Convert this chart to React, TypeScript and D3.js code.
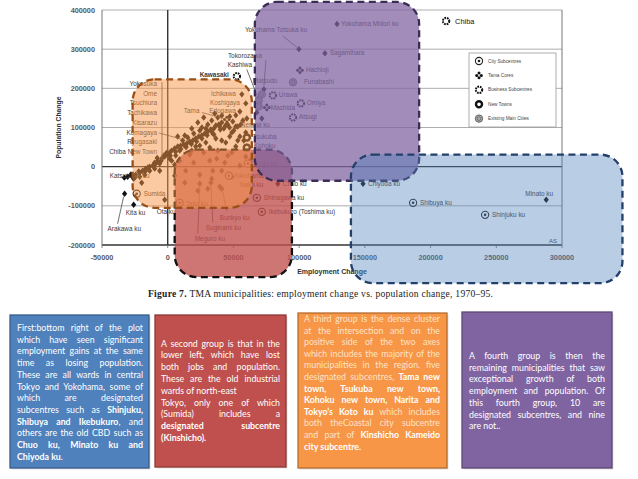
import React, { useEffect, useRef } from "react";
import * as d3 from "d3";

const W = 638;
const H = 479;

// axis ticks
const xTicks = [-50000, 0, 50000, 100000, 150000, 200000, 250000, 300000];
const yTicks = [-200000, -100000, 0, 100000, 200000, 300000, 400000];

// [name, employment change, population change]
type Place = [string, number, number];

const citySubcentres: Place[] = [
    ["Koto ku", 61000, 7700],
    ["Yokohama Naka ku", 46500, -23100],
    ["Shinagawa ku", 67800, -79500],
    ["Ikebukuro (Toshima ku)", 71600, -115400],
    ["Taito ku", 9100, -92300],
    ["Sumida", -23600, -69200],
    ["Shibuya ku", 186700, -92300],
    ["Shinjuku ku", 241500, -123000],
];

const tamaCores: Place[] = [
    ["Hachioji", 100600, 246100],
    ["Machida", 75400, 151300],
    ["Tama", 45000, 120500],
];

const businessSubcentres: Place[] = [
    ["Chiba", 211800, 371800],
    ["Urawa", 80000, 182000],
    ["Omiya", 101300, 161500],
    ["Atsugi", 95300, 125600],
    ["Kawasaki", 52600, 230800],
];

const newTowns: Place[] = [
    ["Tsukuba", 60200, 74400],
    ["Kohoku", 60200, 48700],
];

const mainCities: Place[] = [
    ["Funabashi", 95300, 215400],
    ["Matsudo", 71600, 184600],
    ["Kashiwa", 69300, 169200],
    ["", 69300, 153800],
];

const otherPlaces: Place[] = [
    ["Yokohama Midori ku", 128800, 364100],
    ["Yokohama Totsuka ku", 99800, 300000],
    ["Sagamihara", 119600, 289700],
    ["Tokorozawa", 73200, 197400],
    ["Ichikawa", 56400, 184600],
    ["Koshigaya", 59400, 161500],
    ["Edogawa", 54900, 141000],
    ["Nerima ku", 51800, 102600],
    ["Chuo ku", 83800, -43600],
    ["Bunkyo ku", 41100, -56400],
    ["Suginami ku", 32800, -41000],
    ["Meguro ku", 24400, -43600],
    ["Katsushika ku", -19800, -41000],
    ["Arakawa ku", -32800, -69200],
    ["Kita ku", -25900, -97400],
    ["Ota ku", -2300, -84600],
    ["Minato ku", 288000, -84600],
    ["Chiyoda ku", 148600, -43600],
    ["", 67800, 138500],
    ["", 71600, 123100],
];

// unlabelled municipalities of the dense cluster
const clusterPoints: [number, number][] = [
    [-30500, -25600], [-27400, -23100], [-24400, -20500], [-21300, -15400], [-19100, -10300],
    [-16800, -5100], [-13700, 0], [-11400, 2600], [-9100, 7700], [-7600, 15400], [-4600, 20500],
    [-2300, 25600], [0, 30800], [1500, 35900], [3000, 41000], [5300, 46200], [7600, 51300],
    [9900, 53800], [12200, 56400], [14500, 59000], [16800, 64100], [19100, 66700], [21300, 71800],
    [23600, 76900], [25900, 79500], [28200, 84600], [30500, 89700], [32800, 94900], [35100, 97400],
    [36600, 105100], [38900, 107700], [41100, 112800],
    [-28000, -20000], [-22000, -12000], [-15000, -2000], [-10000, 10000], [-5000, 15000],
    [2000, 28000], [6000, 38000], [10000, 45000], [14000, 50000], [18000, 58000], [22000, 64000],
    [26000, 72000], [30000, 80000], [34000, 86000], [40000, 95000], [44000, 105000], [47000, 100000],
    [26000, 100000], [-1000, 35000], [-3000, 28000], [-8000, 22000], [-17000, -12000],
    [-25000, -28000], [-33000, -28000],
    [33500, 117900], [38100, 125600], [49500, 115400], [53300, 102600], [57200, 117900],
    [59400, 87200], [54900, 76900], [48800, 87200], [42700, 97400], [30500, 107700], [24400, 92300],
    [19800, 84600], [15200, 74400], [11400, 66700], [7600, 76900], [21300, 51300], [29000, 61500],
    [36600, 71800], [44200, 61500], [51800, 51300], [60200, 51300], [59400, 25600], [48800, 35900],
    [38100, 41000], [27400, 35900], [16800, 30800], [9100, 15400], [19800, 10300], [32000, 15400],
    [43400, 10300], [54900, 2600], [62500, 15400], [13700, -10300], [24400, -20500], [34300, -10300],
    [37300, 20500], [41100, -10300], [33500, -30800], [39600, -51300], [22900, -61500],
    [30500, -56400], [48800, -25600], [13000, -41000], [5300, -23100], [45700, 28200],
    [3000, 15400], [-6100, -10300], [5300, 5100],
    [13000, 79500], [18300, 97400], [22900, 112800], [27400, 125600], [35800, 135900],
    [41100, 130800], [47200, 128200], [51800, 131000], [55600, 107700], [60200, 123100],
    [13700, 51300], [18300, 41000], [24400, 53800], [32000, 48700], [41100, 66700], [47200, 76900],
    [53300, 66700], [57900, 66700], [35100, 82000], [29000, 97400], [39600, 102600], [45700, 107700],
    [50300, 92300], [9100, 41000], [6100, 28200], [1500, 20500], [-6100, 7700], [-13700, -10300],
    [-21300, -25600], [-25900, -30800], [-17500, -20500], [-9900, -5100],
];

const listedNames = ["Yokosuka", "Ome", "Tsuchiura", "Tachikawa", "Kisarazu", "Kumagaya", "Ryugasaki", "Chiba New Town"];

const legendItems = [
    ["city", "City Subcentres"],
    ["tama", "Tama Cores"],
    ["business", "Business Subcentres"],
    ["newtown", "New Towns"],
    ["main", "Existing Main Cities"],
];

// group outlines in data units: [x0, x1, y0, y1]
const groupAreas = [
    { key: "red", ext: [5300, 94500, 43600, -282000], fill: "#c0504d", op: 0.78, stroke: "#111" },
    { key: "orange", ext: [-26700, 64000, 223100, -105100], fill: "#f79646", op: 0.5, stroke: "#9a4f16" },
    { key: "purple", ext: [66300, 191300, 420500, -35900], fill: "#8064a2", op: 0.74, stroke: "#3b2d55" },
    { key: "blue", ext: [139400, 346000, 30800, -297400], fill: "#4f81bd", op: 0.4, stroke: "#23406b" },
];

const blueLines = [
    "First:bottom right of the plot",
    "which have seen significant",
    "employment gains at the same",
    "time as losing population.",
    "These are all wards in central",
    "Tokyo and Yokohama, some of",
    "which are designated",
    "subcentres such as **Shinjuku,**",
    "**Shibuya and Ikebukuro**, and",
    "others are the old CBD such as",
    "**Chuo ku, Minato ku and**",
    "**Chiyoda ku**.",
];
const redLines = [
    "A second group is that in the",
    "lower left, which have lost",
    "both jobs and population.",
    "These are the old industrial",
    "wards of north-east",
    "Tokyo, only one of which",
    "(Sumida) includes a",
    "**designated subcentre**",
    "**(Kinshicho).**",
];
const orangeLines = [
    "A third group is the dense cluster",
    "at the intersection and on the",
    "positive side of the two axes",
    "which includes the majority of the",
    "municipalities in the region. five",
    "designated subcentres, **Tama new**",
    "**town, Tsukuba new town,**",
    "**Kohoku new town, Narita and**",
    "**Tokyo’s Koto ku** which includes",
    "both theCoastal city subcentre",
    "and part of **Kinshicho Kameido**",
    "**city subcentre.**",
];
const purpleLines = [
    "A fourth group is then the",
    "remaining municipalities that saw",
    "exceptional growth of both",
    "employment and population. Of",
    "this fourth group, 10 are",
    "designated subcentres, and nine",
    "are not..",
];

// label placement (px offsets from the point): dx, dy, anchor
const labelPos: Record<string, [number, number, string]> = {
    "Chiba": [9, 3, "start"],
    "Yokohama Midori ku": [4, 2, "start"],
    "Yokohama Totsuka ku": [-54, -17, "start"],
    "Sagamihara": [5, 2, "start"],
    "Hachioji": [6, 2, "start"],
    "Funabashi": [11, 2, "start"],
    "Urawa": [6, 2, "start"],
    "Omiya": [6, 2, "start"],
    "Machida": [4, 3, "start"],
    "Atsugi": [6, 2, "start"],
    "Kawasaki": [-8, 1, "end"],
    "Tokorozawa": [-36, -31, "start"],
    "Matsudo": [-9, -11, "start"],
    "Kashiwa": [-31, -33, "start"],
    "Ichikawa": [-6, 2, "end"],
    "Koshigaya": [-6, 2, "end"],
    "Edogawa": [-4, 2, "end"],
    "Tama": [-43, -6, "start"],
    "Nerima ku": [5, 1, "start"],
    "Tsukuba": [6, 1, "start"],
    "Kohoku": [7, 0, "start"],
    "Koto ku": [8, 2, "start"],
    "Yokohama Naka ku": [5, 2, "start"],
    "Chuo ku": [5, 2, "start"],
    "Shinagawa ku": [7, 2, "start"],
    "Ikebukuro (Toshima ku)": [7, 2, "start"],
    "Bunkyo ku": [-2, 31, "start"],
    "Suginami ku": [-5, 47, "start"],
    "Meguro ku": [-5, 57, "start"],
    "Taito ku": [6, 3, "start"],
    "Sumida": [7, 2, "start"],
    "Katsushika ku": [-32, -5, "start"],
    "Arakawa ku": [-17, 37, "start"],
    "Kita ku": [-8, 10, "start"],
    "Ota ku": [-8, 14, "start"],
    "Minato ku": [-7, -4, "middle"],
    "Chiyoda ku": [5, 2, "start"],
    "Shibuya ku": [7, 2, "start"],
    "Shinjuku ku": [7, 2, "start"],
};

// leader lines relative to the point: x1, y1, x2, y2
const leaders: Record<string, [number, number, number, number]> = {
    "Yokohama Totsuka ku": [-16, -13, -2, -2],
    "Tokorozawa": [2, -29, 0, -3],
    "Kashiwa": [-12, -31, -1, -3],
    "Tama": [-25, -7, -3, -1],
    "Bunkyo ku": [5, 22, 1, 3],
    "Suginami ku": [2, 40, 0, 3],
    "Meguro ku": [-2, 50, 0, 3],
    "Arakawa ku": [-7, 30, -1, 3],
};

const FONT = "'Liberation Sans', Arial, sans-serif";
const BOXFONT = "Lato, 'Open Sans', sans-serif";

export default function App() {
    const svgRef = useRef<SVGSVGElement>(null);

    useEffect(() => {
        if (!svgRef.current) return;
        const svg = d3.select(svgRef.current);
        svg.selectAll("*").remove();

        const x = d3.scaleLinear().domain([-50000, 300000]).range([102, 562]);
        const y = d3.scaleLinear().domain([-200000, 400000]).range([245, 10]);

        svg.append("rect").attr("width", W).attr("height", H).attr("fill", "#fff");

        const plot = svg.append("g");

        // grid + frame
        yTicks.forEach(v => {
            const dark = v === 0 || v === -200000;
            plot.append("line")
                .attr("x1", x(-50000)).attr("x2", x(300000))
                .attr("y1", y(v)).attr("y2", y(v))
                .attr("stroke", dark ? "#333" : "#999")
                .attr("stroke-width", dark ? 1.4 : 0.8);
        });
        [[-50000, "#666", 0.9], [0, "#333", 1.4], [300000, "#666", 0.9]].forEach(([v, c, w]) => {
            plot.append("line")
                .attr("x1", x(v as number)).attr("x2", x(v as number))
                .attr("y1", y(400000)).attr("y2", y(-200000))
                .attr("stroke", c as string).attr("stroke-width", w as number);
        });
        xTicks.forEach(v => {
            plot.append("line").attr("x1", x(v)).attr("x2", x(v))
                .attr("y1", y(-200000)).attr("y2", y(-200000) + 3)
                .attr("stroke", "#666").attr("stroke-width", 0.8);
        });

        // tick labels
        plot.selectAll(".ytl").data(yTicks).enter().append("text")
            .attr("x", 95).attr("y", d => y(d) + 2.6)
            .attr("text-anchor", "end")
            .attr("font-family", FONT).attr("font-size", 7.3).attr("font-weight", "bold")
            .attr("fill", "#5a5a5a").text(d => String(d));
        plot.selectAll(".xtl").data(xTicks).enter().append("text")
            .attr("x", d => x(d)).attr("y", 260)
            .attr("text-anchor", "middle")
            .attr("font-family", FONT).attr("font-size", 7.3).attr("font-weight", "bold")
            .attr("fill", "#5a5a5a").text(d => String(d));

        plot.append("text")
            .attr("transform", `translate(61,${y(100000)}) rotate(-90)`)
            .attr("text-anchor", "middle")
            .attr("font-family", FONT).attr("font-size", 6.8).attr("font-weight", "bold")
            .attr("fill", "#333").text("Population Change");
        plot.append("text")
            .attr("x", 332).attr("y", 274).attr("text-anchor", "middle")
            .attr("font-family", FONT).attr("font-size", 7).attr("font-weight", "bold")
            .attr("fill", "#333").text("Employment Change");
        plot.append("text")
            .attr("x", 553).attr("y", 243).attr("text-anchor", "middle")
            .attr("font-family", FONT).attr("font-size", 6).attr("fill", "#444").text("AS");

        const cap = plot.append("text")
            .attr("x", 148).attr("y", 297)
            .attr("font-family", "'Liberation Serif', 'Times New Roman', serif")
            .attr("font-size", 9.6).attr("fill", "#222")
            .attr("textLength", 345).attr("lengthAdjust", "spacing");
        cap.append("tspan").attr("font-weight", "bold").text("Figure 7. ");
        cap.append("tspan").text("TMA municipalities: employment change vs. population change, 1970–95.");

        // symbols
        const drawSymbol = (g: any, type: string, cx: number, cy: number) => {
            const s = g.append("g").attr("transform", `translate(${cx},${cy})`);
            if (type === "plain") {
                s.append("path").attr("d", "M0,-3.2L2.6,0L0,3.2L-2.6,0Z").attr("fill", "#111");
            } else if (type === "city") {
                s.append("circle").attr("r", 3.6).attr("fill", "#fff").attr("stroke", "#222").attr("stroke-width", 1.1);
                s.append("circle").attr("r", 1.3).attr("fill", "#222");
            } else if (type === "tama") {
                [[0, -2.3], [2.3, 0], [0, 2.3], [-2.3, 0]].forEach(([a, b]) =>
                    s.append("circle").attr("cx", a).attr("cy", b).attr("r", 1.5).attr("fill", "#111"));
            } else if (type === "business") {
                s.append("circle").attr("r", 3.2).attr("fill", "#fff").attr("stroke", "#111")
                    .attr("stroke-width", 2).attr("stroke-dasharray", "1.7,0.9");
            } else if (type === "newtown") {
                s.append("circle").attr("r", 3).attr("fill", "#fff").attr("stroke", "#111").attr("stroke-width", 2.4);
            } else if (type === "main") {
                s.append("circle").attr("r", 3.7).attr("fill", "#aaa").attr("stroke", "#666").attr("stroke-width", 1);
                s.append("circle").attr("r", 1.9).attr("fill", "none").attr("stroke", "#666").attr("stroke-width", 0.8);
            }
        };

        const pts = plot.append("g");
        clusterPoints.forEach(([a, b]) => drawSymbol(pts, "plain", x(a), y(b)));

        const groups: [string, Place[]][] = [
            ["plain", otherPlaces], ["city", citySubcentres], ["tama", tamaCores],
            ["business", businessSubcentres], ["newtown", newTowns], ["main", mainCities],
        ];
        const labels = plot.append("g").attr("font-family", FONT).attr("fill", "#3a3a3a");
        groups.forEach(([type, list]) => {
            list.forEach(([name, a, b]) => {
                const px = x(a), py = y(b);
                drawSymbol(pts, type, px, py);
                if (!name) return;
                const lp = labelPos[name] || [5, 2, "start"];
                const t = labels.append("text")
                    .attr("x", px + lp[0]).attr("y", py + lp[1])
                    .attr("text-anchor", lp[2])
                    .attr("font-size", name === "Chiba" ? 7.4 : 6.4);
                if (name === "Kawasaki") t.attr("font-weight", "bold");
                if (name === "Chiba") t.attr("fill", "#111");
                if (name === "Yokohama Naka ku") {
                    t.append("tspan").text("Yokohama");
                    t.append("tspan").attr("x", px + lp[0] + 6).attr("dy", 9).text("Naka ku");
                } else {
                    t.text(name);
                }
                const ld = leaders[name];
                if (ld) {
                    labels.append("line")
                        .attr("x1", px + ld[0]).attr("y1", py + ld[1])
                        .attr("x2", px + ld[2]).attr("y2", py + ld[3])
                        .attr("stroke", "#333").attr("stroke-width", 0.7);
                }
            });
        });

        // list of names on the left of the cluster
        listedNames.forEach((n, i) => {
            labels.append("text")
                .attr("x", 157).attr("y", 86 + i * 9.7)
                .attr("text-anchor", "end").attr("font-size", 6.4)
                .text(n);
        });
        labels.append("line").attr("x1", 162).attr("x2", 162).attr("y1", 82).attr("y2", 160)
            .attr("stroke", "#444").attr("stroke-width", 0.8);
        labels.append("line").attr("x1", 159).attr("x2", 181).attr("y1", 133).attr("y2", 139)
            .attr("stroke", "#333").attr("stroke-width", 0.7);

        // group outlines
        groupAreas.forEach(gA => {
            const [x0, x1, y0, y1] = gA.ext;
            svg.append("rect")
                .attr("x", x(x0)).attr("y", y(y0))
                .attr("width", x(x1) - x(x0)).attr("height", y(y1) - y(y0))
                .attr("rx", 22).attr("ry", 22)
                .attr("fill", gA.fill).attr("fill-opacity", gA.op)
                .attr("stroke", gA.stroke).attr("stroke-width", 2.3)
                .attr("stroke-dasharray", "7,4.5");
        });

        // legend
        const lg = svg.append("g");
        lg.append("rect").attr("x", 469).attr("y", 53).attr("width", 87).attr("height", 74)
            .attr("fill", "#fff").attr("stroke", "#999").attr("stroke-width", 0.8);
        legendItems.forEach(([type, label], i) => {
            const cy = 61 + i * 14.4;
            drawSymbol(lg, type, 479, cy);
            lg.append("text").attr("x", 488).attr("y", cy + 1.6)
                .attr("font-family", FONT).attr("font-size", 4.7).attr("fill", "#444").text(label);
        });

        // text boxes
        const boxes = [
            { x: 10, y: 315, w: 139, h: 153, fill: "#4f81bd", stroke: "#385d8a", tx: 17, tw: 126, ty: 331, lh: 11.7, lines: blueLines, ends: [11], col: "#fff", bcol: "#fff" },
            { x: 155, y: 315, w: 131, h: 152, fill: "#c0504d", stroke: "#8c3836", tx: 161, tw: 119, ty: 346.5, lh: 11.8, lines: redLines, ends: [4, 8], col: "#fff", bcol: "#fff" },
            { x: 298, y: 313, w: 149, h: 155, fill: "#f79646", stroke: "#b66d31", tx: 304, tw: 136, ty: 322, lh: 11.6, lines: orangeLines, ends: [11], col: "#fde2c8", bcol: "#fff" },
            { x: 462, y: 312, w: 150, h: 156, fill: "#8064a2", stroke: "#5c4776", tx: 469, tw: 136, ty: 359, lh: 11.7, lines: purpleLines, ends: [6], col: "#fff", bcol: "#fff" },
        ];
        boxes.forEach(b => {
            const g = svg.append("g");
            g.append("rect").attr("x", b.x + 1.5).attr("y", b.y + 1.5).attr("width", b.w).attr("height", b.h)
                .attr("fill", "#000").attr("opacity", 0.12);
            g.append("rect").attr("x", b.x).attr("y", b.y).attr("width", b.w).attr("height", b.h)
                .attr("fill", b.fill).attr("stroke", b.stroke).attr("stroke-width", 1.3);
            b.lines.forEach((line, i) => {
                const t = g.append("text")
                    .attr("x", b.tx).attr("y", b.ty + i * b.lh)
                    .attr("font-family", BOXFONT).attr("font-size", 8.8)
                    .attr("fill", b.col);
                line.split("**").forEach((part, k) => {
                    if (!part) return;
                    const sp = t.append("tspan").text(part);
                    if (k % 2 === 1) sp.attr("font-weight", "bold").attr("fill", b.bcol);
                });
                const node = t.node() as SVGTextElement;
                const len = node.getComputedTextLength();
                const spaces = (line.replace(/\*\*/g, "").match(/ /g) || []).length;
                if (len > b.tw) {
                    t.attr("textLength", b.tw).attr("lengthAdjust", "spacingAndGlyphs");
                } else if (!b.ends.includes(i) && spaces > 0) {
                    t.attr("word-spacing", (b.tw - len) / spaces);
                }
            });
        });
    }, []);

    return (
        <div style={{ position: "absolute", left: 0, top: 0, width: W, height: H, background: "#fff" }}>
            <svg ref={svgRef} width={W} height={H} style={{ display: "block" }} />
        </div>
    );
}
